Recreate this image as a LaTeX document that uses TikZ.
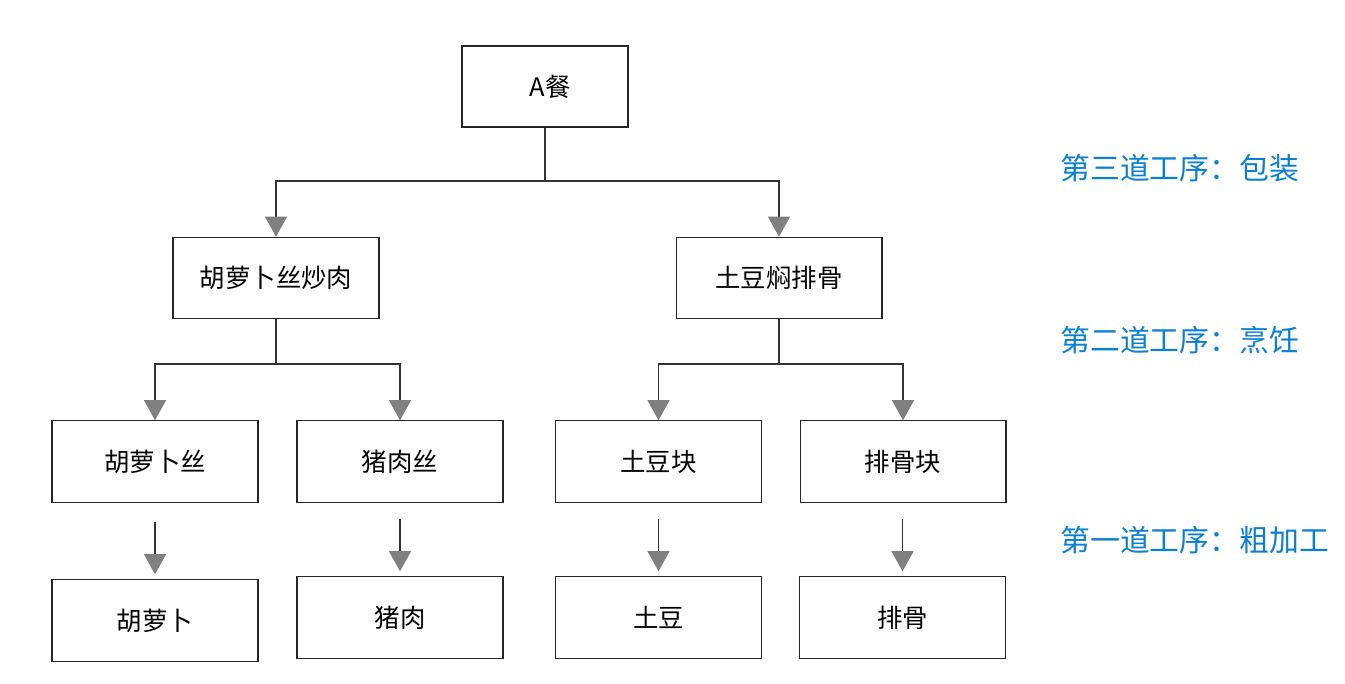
\documentclass[tikz,border=0pt]{standalone}
\usepackage{fontspec}
\setmainfont{Noto Sans CJK SC}
\usetikzlibrary{positioning,arrows.meta}
\definecolor{steplabel}{RGB}{10,128,210}

\begin{document}
\begin{tikzpicture}[x=0.02cm,y=-0.02cm,
    box/.style={draw=black!85, line width=0.6pt, minimum width=4.12cm, minimum height=1.63cm,
        inner sep=0pt, font=\fontsize{14.5}{16}\selectfont},
    link/.style={draw=black!80, line width=0.6pt},
    arr/.style={link, -{Triangle[width=0.44cm,length=0.4cm,color=gray]}},
    stagelabel/.style={anchor=west, text=steplabel, inner sep=0pt, font=\fontsize{17}{20}\selectfont}
]
\useasboundingbox (0,0) rectangle (1345,683);
% finished meal
\node[box, minimum width=3.32cm, minimum height=1.62cm] (meal) at (545,86.5) {\hspace{0.2cm}A餐};
% dishes
\node[box] (carrotpork) at (276,278) {胡萝卜丝炒肉};
\node[box] (potatorib) at (779,278) {土豆焖排骨};
% cut ingredients
\node[box] (carrotstrip) at (155,461.5) {胡萝卜丝};
\node[box] (porkstrip) at (400,461.5) {猪肉丝};
\node[box] (potatocube) at (658.5,461.5) {土豆块};
\node[box] (ribcube) at (903,461.5) {排骨块};
% raw ingredients
\node[box] (carrot) at (155,620.5) {胡萝卜};
\node[box] (pork) at (400,617.5) {猪肉};
\node[box] (potato) at (658.5,617.5) {土豆};
\node[box] (rib) at (902.5,617.5) {排骨};

% connectors
\coordinate (j0) at (545,181);
\coordinate (j1) at (276,364);
\coordinate (j2) at (779,364);
\draw[link] (meal.south) -- (j0);
\draw[arr] (j0) -| (carrotpork.north);
\draw[arr] (j0) -| (potatorib.north);
\draw[link] (carrotpork.south) -- (j1);
\draw[arr] (j1) -| (carrotstrip.north);
\draw[arr] (j1) -| (porkstrip.north);
\draw[link] (potatorib.south) -- (j2);
\draw[arr] (j2) -| (potatocube.north);
\draw[arr] (j2) -| (ribcube.north);

\coordinate (s1) at (155,522);
\coordinate (s2) at (400,519);
\coordinate (s3) at (658.5,519);
\coordinate (s4) at (902.5,519);
\draw[arr, shorten >=0.1cm] (s1) -- (carrot.north);
\draw[arr, shorten >=0.1cm] (s2) -- (pork.north);
\draw[arr, shorten >=0.1cm] (s3) -- (potato.north);
\draw[arr, shorten >=0.1cm] (s4) -- (rib.north);

% stage labels
\node[stagelabel] (stage3) at (1060,168) {第三道工序：包装};
\node[stagelabel] (stage2) at (1060,340) {第二道工序：烹饪};
\node[stagelabel] (stage1) at (1060,540) {第一道工序：粗加工};
\end{tikzpicture}
\end{document}
